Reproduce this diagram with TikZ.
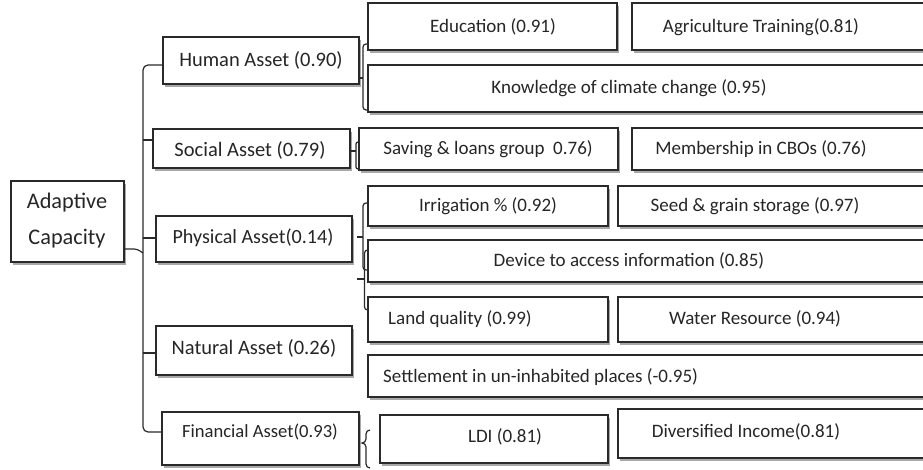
\documentclass[tikz,border=0pt]{standalone}
\usepackage{fontspec}
\setmainfont{Carlito}
\definecolor{linec}{HTML}{2A2A2A}
\definecolor{shadowc}{HTML}{A8A8A8}
\tikzset{
  x=1pt, y=-1pt,
  boxst/.style={draw=linec, line width=1.3pt, fill=white, inner sep=0pt, outer sep=0pt},
  conn/.style={draw=linec, line width=1.2pt},
  txt/.style={font=\fontsize{19}{22}\selectfont, inner sep=0pt, text=black!85},
  bigtxt/.style={txt, font=\fontsize{20.5}{24}\selectfont},
}
\newcommand{\bx}[5]{%
  \fill[shadowc] (#2+1.5,#3+3) rectangle (#4+1.5,#5+3);
  \node[boxst, minimum width={#4-#2}, minimum height={#5-#3}] (#1) at ({(#2+#4)/2},{(#3+#5)/2}) {};
}
\begin{document}
\begin{tikzpicture}
\useasboundingbox (0,0) rectangle (923,470);
\clip (0,0) rectangle (923,470);
% assets
\bx{adapt}{11}{181}{124}{262}
\node[txt, align=center, font=\fontsize{22.3}{36}\selectfont] (adaptt) at (67,221) {Adaptive\\Capacity};
\bx{human}{163}{37}{359}{84}
\node[bigtxt] (humant) at (261,60) {Human Asset (0.90)};
\bx{social}{153}{129}{350}{168}
\node[bigtxt] (socialt) at (250,150) {Social Asset (0.79)};
\bx{phys}{156}{216}{352}{262}
\node[bigtxt, font=\fontsize{20.1}{24}\selectfont] (physt) at (253,238) {Physical Asset(0.14)};
\bx{nat}{156}{326}{352}{375}
\node[bigtxt] (natt) at (254,348) {Natural Asset (0.26)};
\bx{fin}{162}{412}{359}{465}
\node[txt, font=\fontsize{18.6}{22}\selectfont] (fint) at (260,432) {Financial Asset(0.93)};
% indicators
\bx{edu}{368}{3}{617}{50}
\node[txt] (edut) at (493,27) {Education (0.91)};
\bx{agri}{632}{3}{935}{50}
\node[txt] (agrit) at (761,27) {Agriculture Training(0.81)};
\bx{know}{368}{65}{935}{112}
\node[txt] (knowt) at (629,88) {Knowledge of climate change (0.95)};
\bx{save}{359}{128}{618}{170}
\node[txt] (savet) at (488,149) {Saving \& loans group\ \ 0.76)};
\bx{memb}{632}{128}{935}{170}
\node[txt] (membt) at (761,149) {Membership in CBOs (0.76)};
\bx{irr}{368}{186}{608}{226}
\node[txt] (irrt) at (488,206) {Irrigation \% (0.92)};
\bx{seed}{618}{186}{935}{226}
\node[txt] (seedt) at (755,206) {Seed \& grain storage (0.97)};
\bx{dev}{368}{240}{935}{282}
\node[txt] (devt) at (629,261) {Device to access information (0.85)};
\bx{land}{368}{297}{608}{342}
\node[txt, anchor=west] (landt) at (388,319) {Land quality (0.99)};
\bx{water}{618}{297}{935}{342}
\node[txt] (watert) at (755,319) {Water Resource (0.94)};
\bx{settle}{368}{355}{935}{397}
\node[txt, anchor=west] (settlet) at (383,377) {Settlement in un-inhabited places (-0.95)};
\bx{ldi}{380}{415}{608}{463}
\node[txt] (ldit) at (505,437) {LDI (0.81)};
\bx{div}{618}{409}{935}{458}
\node[txt] (divt) at (746,432) {Diversified Income(0.81)};
% main trunk
\draw[conn, rounded corners=5] (human.west |- 0,65) -- (143,65) -- (143,432) -- (fin.west |- 0,432);
\draw[conn, rounded corners=3] (adapt.east |- 0,249) -- (137,249) -- (143,253);
\draw[conn] (143,140) -- (social.west |- 0,140);
\draw[conn] (143,238) -- (phys.west |- 0,238);
\draw[conn] (143,353) -- (nat.west |- 0,353);
% human brace
\draw[conn, rounded corners=3] (edu.west |- 0,44) -- (363,44) -- (363,110) -- (know.west |- 0,110);
\draw[conn] (human.east |- 0,78) -- (363,78);
% social bracket
\draw[conn, rounded corners=2] (save.west |- 0,142) -- (356,142) -- (356,169) -- (save.west |- 0,169);
\draw[conn] (social.east |- 0,151) -- (356,151);
% physical braces
\draw[conn, rounded corners=3] (irr.west |- 0,203) -- (363,203) -- (363,270) -- (dev.west |- 0,270);
\draw[conn, rounded corners=3] (dev.west |- 0,250) -- (364.5,250) -- (364.5,310) -- (land.west |- 0,310);
\coordinate (pt1) at (357,237);
\coordinate (pt2) at (357,279);
\draw[conn] (pt1) -- (363,237);
\draw[conn] (pt2) -- (364.5,279);
% financial brace
\coordinate (fb1) at (370,430);
\coordinate (fb2) at (370,468);
\draw[conn] (fb1) to[out=180,in=90] (366,434) -- (366,439) to[out=-90,in=0] (362,443) to[out=0,in=90] (366,447) -- (366,464) to[out=-90,in=180] (fb2);
\end{tikzpicture}
\end{document}
